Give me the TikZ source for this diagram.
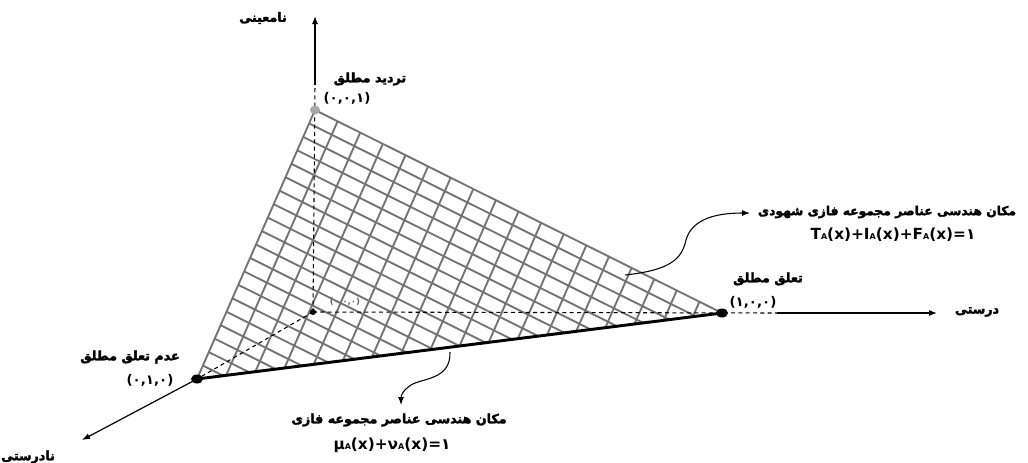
\documentclass[tikz,border=0pt]{standalone}
\usepackage{fontspec}
\setmainfont{DejaVu Sans}
\newfontfamily\fa[Script=Arabic,FakeBold=2.5]{DejaVu Sans}
\TeXXeTstate=1
\usetikzlibrary{calc,arrows.meta}
\begin{document}
\begin{tikzpicture}[x=0.75pt,y=-0.75pt,
  gridline/.style={draw=black!55,line width=1.4pt},
  axis/.style={line width=0.9pt,-{Latex[length=6pt,width=4.5pt]}},
  dashaxis/.style={line width=0.8pt,dash pattern=on 3pt off 2.5pt},
  lbl/.style={font=\fa\bfseries\fontsize{9.5}{11}\selectfont,inner sep=0pt},
  crd/.style={font=\bfseries\fontsize{10}{12}\selectfont,inner sep=0pt},
  frm/.style={font=\bfseries\fontsize{11.5}{13}\selectfont,inner sep=0pt},
  curv/.style={line width=0.8pt,-{Latex[length=6pt,width=4.5pt]}}]
\useasboundingbox (0,0) rectangle (1028,462);
% key points
\coordinate (O) at (313,312);
\coordinate (A) at (315,110);
\coordinate (B) at (722,313);
\coordinate (C) at (197,379);
\coordinate (Ttip) at (315,16);
\coordinate (Tsol) at (315,85);
\coordinate (Rtip) at (937,313);
\coordinate (Rsol) at (777,313);
\coordinate (Ltip) at (82,440);
% grid
\foreach \k in {1,...,19}{
  \draw[gridline] ($(C)!\k/20!(A)$) -- ($(C)!\k/20!(B)$);
}
\foreach \k in {1,...,17}{
  \draw[gridline] ($(B)!\k/18!(A)$) -- ($(B)!\k/18!(C)$);
}
\draw[gridline] (C) -- (A) -- (B);
% dashed axes
\draw[dashaxis] (O) -- (Tsol);
\draw[dashaxis] (O) -- (Rsol);
\draw[dashaxis] (O) -- (C);
% solid axes
\draw[axis] (Tsol) -- (Ttip);
\draw[axis] (Rsol) -- (Rtip);
\draw[axis] (C) -- (Ltip);
% bold edge
\draw[line width=2.2pt] (C) -- (B);
% dots
\fill[black!35] (A) circle [x radius=5, y radius=4.5];
\fill (B) circle [x radius=6, y radius=4.5];
\fill (C) circle [x radius=6, y radius=4.5];
\fill (O) circle [radius=3];
% curved arrows
\coordinate (s1) at (625,275);
\coordinate (e1) at (750,213);
\draw[curv] (s1) .. controls (672,270) and (682,258) .. (686,240)
  .. controls (691,222) and (710,213) .. (e1);
\coordinate (s2) at (450,352);
\coordinate (e2) at (401,405);
\draw[curv] (s2) .. controls (451,380) and (422,378) .. (411,385)
  .. controls (402,391) and (401,396) .. (e2);
% labels
\node[lbl] (nami) at (263,18) {\beginR نامعینی\endR};
\node[lbl] (tardid) at (370,79) {\beginR تردید مطلق\endR};
\node[crd] (c001) at (347,98) {(۰,۰,۱)};
\node[lbl] (taalogh) at (768,279) {\beginR تعلق مطلق\endR};
\node[crd] (c100) at (753,302) {(۱,۰,۰)};
\node[lbl] (dorosti) at (977,312) {\beginR درستی\endR};
\node[lbl] (adam) at (130,357) {\beginR عدم تعلق مطلق\endR};
\node[crd] (c010) at (150,380) {(۰,۱,۰)};
\node[lbl] (nadorosti) at (28,457) {\beginR نادرستی\endR};
\node[lbl,font=\fa\bfseries\fontsize{9.2}{11}\selectfont] (makan2) at (887,212) {\beginR مکان هندسی عناصر مجموعه فازی شهودی\endR};
\node[frm] (f1) at (893,235) {T{\fontsize{6}{6}\selectfont A}(x)+I{\fontsize{6}{6}\selectfont A}(x)+F{\fontsize{6}{6}\selectfont A}(x)=۱};
\node[lbl] (makan1) at (399,420) {\beginR مکان هندسی عناصر مجموعه فازی\endR};
\node[frm] (f2) at (392,445) {μ{\fontsize{6}{6}\selectfont A}(x)+ν{\fontsize{6}{6}\selectfont A}(x)=۱};
\node[crd,text=black!60,font=\bfseries\fontsize{6.5}{8}\selectfont] (c000) at (345,302) {(۰,۰,۰)};
\end{tikzpicture}
\end{document}
